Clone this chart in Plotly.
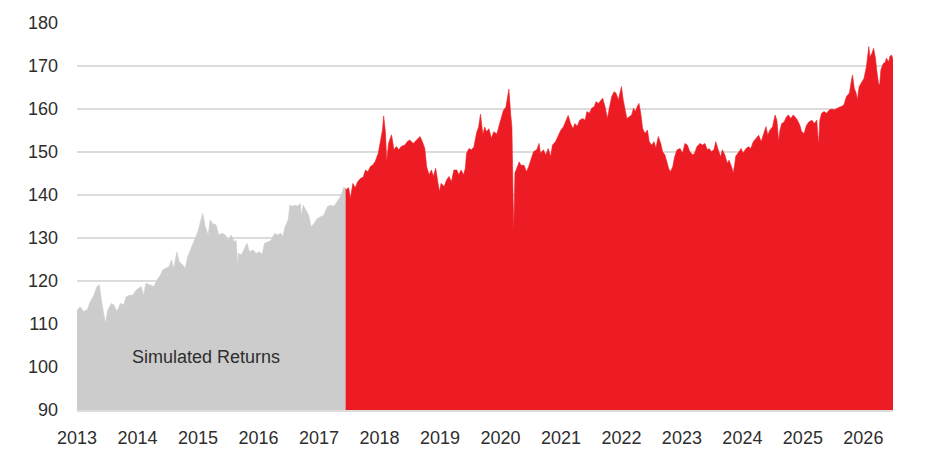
import plotly.graph_objects as go

# Simulated (back-tested) period, decimal years and index values
sim_years = [2013.00, 2013.01, 2013.05, 2013.11, 2013.17, 2013.22, 2013.28, 2013.33, 2013.37, 2013.41,
             2013.47, 2013.51, 2013.57, 2013.61, 2013.66, 2013.72, 2013.77, 2013.81, 2013.86, 2013.92,
             2013.98, 2014.02, 2014.06, 2014.10, 2014.14, 2014.20, 2014.27, 2014.32, 2014.38, 2014.42,
             2014.47, 2014.52, 2014.56, 2014.60, 2014.65, 2014.69, 2014.75, 2014.79, 2014.83, 2014.89,
             2014.95, 2015.00, 2015.04, 2015.08, 2015.12, 2015.17, 2015.20, 2015.24, 2015.30, 2015.34,
             2015.40, 2015.45, 2015.50, 2015.55, 2015.60, 2015.63, 2015.66, 2015.67, 2015.72, 2015.77,
             2015.81, 2015.85, 2015.91, 2015.96, 2016.02, 2016.06, 2016.10, 2016.16, 2016.21, 2016.27,
             2016.31, 2016.37, 2016.40, 2016.44, 2016.49, 2016.52, 2016.55, 2016.61, 2016.65, 2016.69,
             2016.71, 2016.74, 2016.79, 2016.83, 2016.87, 2016.92, 2016.97, 2017.03, 2017.08, 2017.14,
             2017.19, 2017.25, 2017.30, 2017.37, 2017.41, 2017.44]
sim_values = [113.0, 113.3, 114.0, 112.9, 113.3, 115.2, 116.7, 118.7, 119.1, 114.9,
              110.2, 113.3, 114.8, 114.4, 112.9, 114.8, 114.4, 116.3, 116.7, 116.7,
              117.9, 118.3, 118.7, 116.7, 119.5, 119.1, 118.7, 120.2, 121.4, 122.6,
              122.9, 123.3, 124.9, 122.9, 126.8, 124.5, 123.7, 122.9, 125.7, 127.6,
              129.5, 131.5, 133.8, 135.7, 132.6, 130.7, 134.2, 133.4, 133.0, 130.7,
              131.1, 130.7, 129.5, 130.7, 129.1, 129.5, 123.3, 126.4, 126.1, 127.6,
              128.8, 126.8, 127.2, 126.4, 126.8, 126.1, 128.8, 129.1, 129.5, 131.1,
              130.7, 131.1, 130.3, 132.6, 134.2, 137.7, 137.4, 137.6, 137.4, 138.0,
              135.3, 137.6, 136.5, 135.3, 132.6, 133.4, 134.5, 134.9, 135.3, 137.3,
              137.6, 137.4, 138.4, 140.0, 141.8, 141.5]

# Live period
live_years = [2017.44, 2017.45, 2017.49, 2017.52, 2017.56, 2017.60, 2017.64, 2017.69, 2017.73, 2017.77,
              2017.81, 2017.85, 2017.89, 2017.93, 2017.98, 2018.02, 2018.05, 2018.07, 2018.10, 2018.12,
              2018.15, 2018.20, 2018.24, 2018.28, 2018.32, 2018.36, 2018.42, 2018.46, 2018.50, 2018.56,
              2018.61, 2018.67, 2018.71, 2018.75, 2018.78, 2018.82, 2018.86, 2018.89, 2018.93, 2018.96,
              2018.99, 2019.02, 2019.07, 2019.11, 2019.15, 2019.19, 2019.23, 2019.28, 2019.31, 2019.35,
              2019.39, 2019.42, 2019.44, 2019.48, 2019.52, 2019.56, 2019.61, 2019.64, 2019.67, 2019.71,
              2019.74, 2019.77, 2019.81, 2019.85, 2019.89, 2019.94, 2019.98, 2020.01, 2020.05, 2020.09,
              2020.11, 2020.14, 2020.17, 2020.19, 2020.21, 2020.22, 2020.24, 2020.28, 2020.31, 2020.34,
              2020.39, 2020.43, 2020.47, 2020.51, 2020.55, 2020.60, 2020.64, 2020.66, 2020.71, 2020.75,
              2020.79, 2020.83, 2020.86, 2020.91, 2020.95, 2021.00, 2021.04, 2021.08, 2021.12, 2021.16,
              2021.20, 2021.23, 2021.27, 2021.31, 2021.36, 2021.40, 2021.43, 2021.47, 2021.51, 2021.55,
              2021.58, 2021.62, 2021.66, 2021.69, 2021.73, 2021.77, 2021.80, 2021.84, 2021.88, 2021.91,
              2021.95, 2021.98, 2022.00, 2022.03, 2022.06, 2022.09, 2022.13, 2022.17, 2022.20, 2022.23,
              2022.26, 2022.29, 2022.32, 2022.35, 2022.39, 2022.43, 2022.46, 2022.50, 2022.54, 2022.57,
              2022.61, 2022.65, 2022.68, 2022.72, 2022.75, 2022.78, 2022.81, 2022.85, 2022.88, 2022.92,
              2022.97, 2023.01, 2023.05, 2023.09, 2023.13, 2023.18, 2023.21, 2023.25, 2023.30, 2023.34,
              2023.38, 2023.42, 2023.45, 2023.49, 2023.53, 2023.56, 2023.60, 2023.64, 2023.67, 2023.71,
              2023.75, 2023.78, 2023.82, 2023.85, 2023.88, 2023.89, 2023.94, 2023.98, 2024.01, 2024.06,
              2024.10, 2024.14, 2024.18, 2024.22, 2024.27, 2024.31, 2024.34, 2024.39, 2024.42, 2024.45,
              2024.50, 2024.54, 2024.57, 2024.60, 2024.62, 2024.65, 2024.69, 2024.73, 2024.76, 2024.80,
              2024.84, 2024.87, 2024.91, 2024.95, 2024.98, 2025.02, 2025.06, 2025.10, 2025.15, 2025.19,
              2025.23, 2025.26, 2025.28, 2025.31, 2025.35, 2025.39, 2025.44, 2025.48, 2025.52, 2025.56,
              2025.60, 2025.64, 2025.68, 2025.72, 2025.77, 2025.80, 2025.82, 2025.85, 2025.88, 2025.90,
              2025.93, 2025.98, 2026.01, 2026.05, 2026.09, 2026.11, 2026.14, 2026.17, 2026.20, 2026.22,
              2026.25, 2026.27, 2026.29, 2026.33, 2026.36, 2026.38, 2026.42, 2026.44, 2026.47, 2026.49]
live_values = [141.5, 141.3, 141.7, 139.2, 142.7, 141.7, 143.1, 143.9, 144.1, 145.8,
               145.4, 146.6, 147.0, 147.8, 149.7, 152.8, 155.1, 158.4, 154.4, 147.8,
               152.0, 154.0, 150.5, 151.3, 150.5, 151.3, 151.6, 152.4, 152.8, 152.0,
               152.8, 153.6, 152.4, 150.8, 146.6, 144.7, 145.8, 144.3, 146.2, 143.5,
               140.8, 142.7, 142.0, 143.5, 144.3, 143.1, 145.8, 145.8, 144.7, 145.8,
               144.7, 146.2, 149.7, 150.8, 150.5, 151.1, 154.7, 155.8, 158.8, 154.0,
               155.8, 154.7, 155.4, 153.2, 154.7, 154.2, 156.2, 157.4, 159.7, 160.4,
               162.5, 164.6, 158.8, 155.8, 138.8, 131.5, 145.1, 146.6, 147.7, 146.9,
               146.9, 145.4, 146.7, 148.5, 150.1, 150.5, 152.0, 149.7, 150.5, 149.3,
               150.8, 148.9, 151.6, 152.4, 153.6, 155.1, 155.8, 157.0, 158.5, 156.6,
               155.4, 156.6, 156.0, 157.4, 157.8, 157.4, 159.4, 159.0, 160.2, 160.5,
               161.7, 161.3, 162.1, 162.5, 160.5, 157.8, 160.2, 162.9, 164.0, 163.7,
               162.1, 163.7, 165.2, 162.1, 159.4, 157.8, 158.2, 158.6, 160.2, 159.4,
               160.5, 161.3, 159.0, 155.5, 154.3, 155.1, 152.4, 151.6, 152.4, 150.9,
               153.6, 152.0, 150.1, 149.3, 147.8, 146.2, 145.4, 146.6, 148.9, 150.5,
               150.8, 149.7, 152.0, 151.6, 150.1, 149.3, 149.7, 151.3, 152.0, 151.6,
               152.0, 150.5, 150.8, 150.1, 150.5, 152.4, 150.5, 148.9, 150.5, 149.3,
               147.4, 148.1, 146.6, 145.1, 147.8, 149.0, 150.0, 150.8, 149.7, 150.8,
               151.2, 150.8, 152.4, 153.1, 153.9, 152.4, 153.9, 155.9, 153.9, 155.0,
               155.9, 158.6, 157.4, 152.4, 155.0, 156.6, 157.0, 158.2, 158.6, 157.8,
               158.6, 158.2, 157.4, 156.2, 154.7, 154.3, 156.2, 157.0, 157.4, 156.6,
               157.4, 151.6, 157.4, 159.0, 159.4, 159.0, 159.8, 160.0, 159.8, 160.2,
               160.4, 160.6, 161.0, 162.9, 163.7, 166.4, 167.9, 164.8, 163.7, 162.1,
               165.2, 166.4, 167.1, 169.8, 174.5, 172.1, 172.9, 174.1, 171.8, 169.1,
               166.0, 165.6, 169.1, 170.6, 170.8, 171.8, 171.0, 172.3, 172.5, 171.4]

tick_years = list(range(2013, 2027))
tick_labels = [str(y) for y in tick_years]
y_ticks = [90, 100, 110, 120, 130, 140, 150, 160, 170, 180]

GRAY = "#cccccc"
RED = "#ed1c24"
TEXT = "#2e2e2e"
FONT = "Liberation Sans, Arial, sans-serif"

fig = go.Figure()
fig.add_trace(go.Scatter(x=sim_years, y=sim_values, mode="lines", fill="tozeroy",
                         line=dict(color=GRAY, width=0.6), fillcolor=GRAY,
                         hoverinfo="skip", showlegend=False))
fig.add_trace(go.Scatter(x=live_years, y=live_values, mode="lines", fill="tozeroy",
                         line=dict(color=RED, width=0.6), fillcolor=RED,
                         hoverinfo="skip", showlegend=False))

fig.add_annotation(x=2015.13, y=102.4, text="Simulated Returns", showarrow=False,
                   font=dict(family=FONT, size=18, color=TEXT))

# the page body adds an 8px offset, so the figure is 8px smaller on each axis
fig.update_layout(
    width=942, height=446,
    margin=dict(l=69, r=57, t=15, b=44, autoexpand=False),
    paper_bgcolor="white", plot_bgcolor="white",
    font=dict(family=FONT, size=18, color=TEXT),
    xaxis=dict(range=[2013, 2026.49], tickvals=tick_years, ticktext=tick_labels,
               showgrid=False, zeroline=False, showline=True, linecolor="#dcdcdc",
               linewidth=2, ticks="", ticklabelstandoff=10, automargin=False,
               tickfont=dict(family=FONT, size=18, color=TEXT)),
    yaxis=dict(range=[90, 180], tickvals=y_ticks, showgrid=True, gridcolor="#dcdcdc",
               gridwidth=1.5, zeroline=False, showline=False, ticks="", automargin=False,
               ticklabelstandoff=18, tickfont=dict(family=FONT, size=18, color=TEXT)),
)

fig.write_html("out.html")
